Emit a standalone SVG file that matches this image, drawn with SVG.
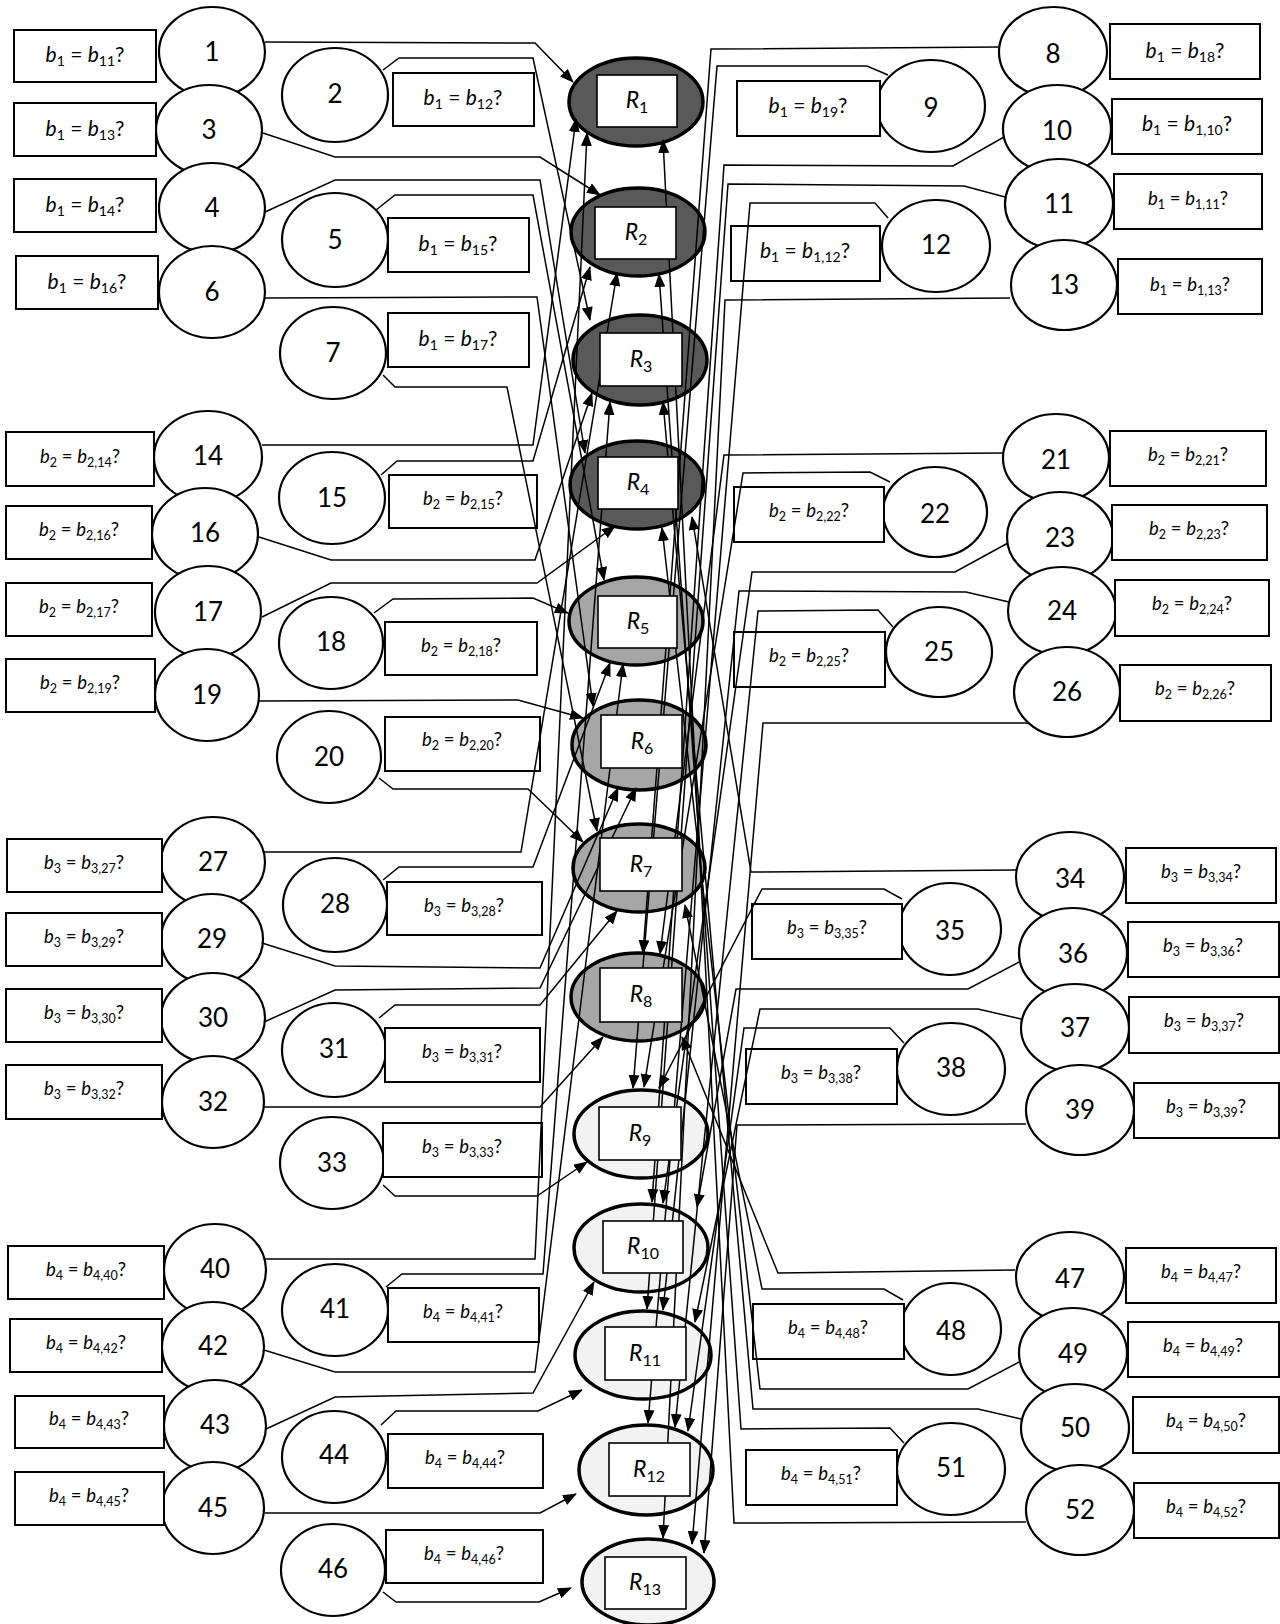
<svg xmlns="http://www.w3.org/2000/svg" width="1280" height="1624" viewBox="0 0 1280 1624">
<defs>
<style>
.bx{fill:#fff;stroke:#000;stroke-width:2}
.cc{fill:#fff;stroke:#000;stroke-width:2.2}
.num{font-family:Lato,"Liberation Sans",sans-serif;font-size:26px;text-anchor:middle;fill:#000}
.lb{font-family:Lato,"Liberation Sans",sans-serif;font-size:21px;text-anchor:middle;fill:#000}
.lb2{font-family:Lato,"Liberation Sans",sans-serif;font-size:18.5px;text-anchor:middle;fill:#000}
.i{font-style:italic}
.s{font-size:14px}
.s2{font-size:12.5px}
.cn{fill:none;stroke:#000;stroke-width:1.5;marker-end:url(#ah)}
.re{stroke:#000;stroke-width:3.5}
.d1{fill:#595959}
.d2{fill:#a6a6a6}
.d3{fill:#f2f2f2}
.rr{fill:#fff;stroke:#000;stroke-width:1.6}
.rl{font-family:Lato,"Liberation Sans",sans-serif;font-size:23px;text-anchor:middle;fill:#000}
.rs{font-size:16px}
</style>
<marker id="ah" viewBox="0 0 14 11" refX="13" refY="5.5" markerWidth="14" markerHeight="11" markerUnits="userSpaceOnUse" orient="auto"><path d="M0,0 L14,5.5 L0,11 z" fill="#000"/></marker>
</defs>
<rect width="1280" height="1624" fill="#fff"/>

<g id="R-shapes">
<g id="R1"><ellipse class="re d1" cx="636" cy="102" rx="67" ry="44"/></g>
<g id="R2"><ellipse class="re d1" cx="638" cy="232" rx="67" ry="44"/></g>
<g id="R3"><ellipse class="re d1" cx="640" cy="360" rx="67" ry="45"/></g>
<g id="R4"><ellipse class="re d1" cx="637" cy="485" rx="67" ry="44"/></g>
<g id="R5"><ellipse class="re d2" cx="636" cy="621" rx="67" ry="44"/></g>
<g id="R6"><ellipse class="re d2" cx="639" cy="745" rx="67" ry="45"/></g>
<g id="R7"><ellipse class="re d2" cx="639" cy="868" rx="66" ry="44"/></g>
<g id="R8"><ellipse class="re d2" cx="638" cy="997" rx="67" ry="44"/></g>
<g id="R9"><ellipse class="re d3" cx="641" cy="1134" rx="67" ry="44"/></g>
<g id="R10"><ellipse class="re d3" cx="641" cy="1248" rx="67" ry="44"/></g>
<g id="R11"><ellipse class="re d3" cx="643" cy="1355" rx="68" ry="44"/></g>
<g id="R12"><ellipse class="re d3" cx="646" cy="1470" rx="67" ry="45"/></g>
<g id="R13"><ellipse class="re d3" cx="648" cy="1582" rx="66" ry="43"/></g>
</g>

<g id="nodes">
<g id="n1"><ellipse class="cc" cx="212" cy="52" rx="53" ry="45"/><text class="num" x="212" y="61">1</text>
<rect class="bx" x="14" y="30" width="142" height="52"/><text class="lb" x="85" y="62"><tspan class="i">b</tspan><tspan class="s" dy="4">1</tspan><tspan dy="-4"> = </tspan><tspan class="i">b</tspan><tspan class="s" dy="4">11</tspan><tspan dy="-4">?</tspan></text></g>
<g id="n2"><ellipse class="cc" cx="335" cy="95" rx="53" ry="47"/><text class="num" x="335" y="103">2</text>
<rect class="bx" x="393" y="73" width="141" height="53"/><text class="lb" x="463" y="105"><tspan class="i">b</tspan><tspan class="s" dy="4">1</tspan><tspan dy="-4"> = </tspan><tspan class="i">b</tspan><tspan class="s" dy="4">12</tspan><tspan dy="-4">?</tspan></text></g>
<g id="n3"><ellipse class="cc" cx="209" cy="130" rx="53" ry="45"/><text class="num" x="209" y="139">3</text>
<rect class="bx" x="14" y="103" width="142" height="53"/><text class="lb" x="85" y="136"><tspan class="i">b</tspan><tspan class="s" dy="4">1</tspan><tspan dy="-4"> = </tspan><tspan class="i">b</tspan><tspan class="s" dy="4">13</tspan><tspan dy="-4">?</tspan></text></g>
<g id="n4"><ellipse class="cc" cx="212" cy="208" rx="53" ry="45"/><text class="num" x="212" y="217">4</text>
<rect class="bx" x="14" y="179" width="142" height="53"/><text class="lb" x="85" y="212"><tspan class="i">b</tspan><tspan class="s" dy="4">1</tspan><tspan dy="-4"> = </tspan><tspan class="i">b</tspan><tspan class="s" dy="4">14</tspan><tspan dy="-4">?</tspan></text></g>
<g id="n5"><ellipse class="cc" cx="335" cy="240" rx="53" ry="47"/><text class="num" x="335" y="249">5</text>
<rect class="bx" x="388" y="218" width="141" height="54"/><text class="lb" x="458" y="251"><tspan class="i">b</tspan><tspan class="s" dy="4">1</tspan><tspan dy="-4"> = </tspan><tspan class="i">b</tspan><tspan class="s" dy="4">15</tspan><tspan dy="-4">?</tspan></text></g>
<g id="n6"><ellipse class="cc" cx="212" cy="292" rx="53" ry="46"/><text class="num" x="212" y="301">6</text>
<rect class="bx" x="16" y="256" width="142" height="53"/><text class="lb" x="87" y="289"><tspan class="i">b</tspan><tspan class="s" dy="4">1</tspan><tspan dy="-4"> = </tspan><tspan class="i">b</tspan><tspan class="s" dy="4">16</tspan><tspan dy="-4">?</tspan></text></g>
<g id="n7"><ellipse class="cc" cx="333" cy="353" rx="53" ry="46"/><text class="num" x="333" y="362">7</text>
<rect class="bx" x="388" y="313" width="141" height="54"/><text class="lb" x="458" y="346"><tspan class="i">b</tspan><tspan class="s" dy="4">1</tspan><tspan dy="-4"> = </tspan><tspan class="i">b</tspan><tspan class="s" dy="4">17</tspan><tspan dy="-4">?</tspan></text></g>

<g id="n8"><ellipse class="cc" cx="1053" cy="52" rx="54" ry="45"/><text class="num" x="1053" y="63">8</text>
<rect class="bx" x="1110" y="24" width="150" height="55"/><text class="lb" x="1185" y="58"><tspan class="i">b</tspan><tspan class="s" dy="4">1</tspan><tspan dy="-4"> = </tspan><tspan class="i">b</tspan><tspan class="s" dy="4">18</tspan><tspan dy="-4">?</tspan></text></g>
<g id="n9"><ellipse class="cc" cx="931" cy="106" rx="54" ry="46"/><text class="num" x="931" y="117">9</text>
<rect class="bx" x="737" y="81" width="143" height="55"/><text class="lb" x="808" y="113"><tspan class="i">b</tspan><tspan class="s" dy="4">1</tspan><tspan dy="-4"> = </tspan><tspan class="i">b</tspan><tspan class="s" dy="4">19</tspan><tspan dy="-4">?</tspan></text></g>
<g id="n10"><ellipse class="cc" cx="1057" cy="129" rx="54" ry="44"/><text class="num" x="1057" y="140">10</text>
<rect class="bx" x="1112" y="99" width="150" height="55"/><text class="lb" x="1187" y="131"><tspan class="i">b</tspan><tspan class="s" dy="4">1</tspan><tspan dy="-4"> = </tspan><tspan class="i">b</tspan><tspan class="s" dy="4">1,10</tspan><tspan dy="-4">?</tspan></text></g>
<g id="n11"><ellipse class="cc" cx="1059" cy="204" rx="54" ry="45"/><text class="num" x="1059" y="213">11</text>
<rect class="bx" x="1114" y="174" width="148" height="55"/><text class="lb2" x="1188" y="205"><tspan class="i">b</tspan><tspan class="s2" dy="4">1</tspan><tspan dy="-4"> = </tspan><tspan class="i">b</tspan><tspan class="s2" dy="4">1,11</tspan><tspan dy="-4">?</tspan></text></g>
<g id="n12"><ellipse class="cc" cx="936" cy="246" rx="54" ry="46"/><text class="num" x="936" y="254">12</text>
<rect class="bx" x="731" y="226" width="149" height="55"/><text class="lb" x="805" y="258"><tspan class="i">b</tspan><tspan class="s" dy="4">1</tspan><tspan dy="-4"> = </tspan><tspan class="i">b</tspan><tspan class="s" dy="4">1,12</tspan><tspan dy="-4">?</tspan></text></g>
<g id="n13"><ellipse class="cc" cx="1064" cy="285" rx="53" ry="45"/><text class="num" x="1064" y="294">13</text>
<rect class="bx" x="1118" y="259" width="144" height="55"/><text class="lb2" x="1190" y="291"><tspan class="i">b</tspan><tspan class="s2" dy="4">1</tspan><tspan dy="-4"> = </tspan><tspan class="i">b</tspan><tspan class="s2" dy="4">1,13</tspan><tspan dy="-4">?</tspan></text></g>

<g id="n14"><ellipse class="cc" cx="208" cy="457" rx="54" ry="46"/><text class="num" x="208" y="465">14</text>
<rect class="bx" x="6" y="432" width="148" height="54"/><text class="lb2" x="80" y="463"><tspan class="i">b</tspan><tspan class="s2" dy="4">2</tspan><tspan dy="-4"> = </tspan><tspan class="i">b</tspan><tspan class="s2" dy="4">2,14</tspan><tspan dy="-4">?</tspan></text></g>
<g id="n15"><ellipse class="cc" cx="332" cy="498" rx="53" ry="46"/><text class="num" x="332" y="507">15</text>
<rect class="bx" x="389" y="475" width="148" height="53"/><text class="lb2" x="463" y="505"><tspan class="i">b</tspan><tspan class="s2" dy="4">2</tspan><tspan dy="-4"> = </tspan><tspan class="i">b</tspan><tspan class="s2" dy="4">2,15</tspan><tspan dy="-4">?</tspan></text></g>
<g id="n16"><ellipse class="cc" cx="205" cy="534" rx="53" ry="46"/><text class="num" x="205" y="542">16</text>
<rect class="bx" x="6" y="506" width="146" height="53"/><text class="lb2" x="79" y="536"><tspan class="i">b</tspan><tspan class="s2" dy="4">2</tspan><tspan dy="-4"> = </tspan><tspan class="i">b</tspan><tspan class="s2" dy="4">2,16</tspan><tspan dy="-4">?</tspan></text></g>
<g id="n17"><ellipse class="cc" cx="208" cy="612" rx="53" ry="46"/><text class="num" x="208" y="621">17</text>
<rect class="bx" x="6" y="583" width="146" height="53"/><text class="lb2" x="79" y="613"><tspan class="i">b</tspan><tspan class="s2" dy="4">2</tspan><tspan dy="-4"> = </tspan><tspan class="i">b</tspan><tspan class="s2" dy="4">2,17</tspan><tspan dy="-4">?</tspan></text></g>
<g id="n18"><ellipse class="cc" cx="331" cy="643" rx="52" ry="46"/><text class="num" x="331" y="651">18</text>
<rect class="bx" x="385" y="622" width="152" height="53"/><text class="lb2" x="461" y="652"><tspan class="i">b</tspan><tspan class="s2" dy="4">2</tspan><tspan dy="-4"> = </tspan><tspan class="i">b</tspan><tspan class="s2" dy="4">2,18</tspan><tspan dy="-4">?</tspan></text></g>
<g id="n19"><ellipse class="cc" cx="207" cy="695" rx="52" ry="46"/><text class="num" x="207" y="704">19</text>
<rect class="bx" x="6" y="659" width="149" height="53"/><text class="lb2" x="80" y="689"><tspan class="i">b</tspan><tspan class="s2" dy="4">2</tspan><tspan dy="-4"> = </tspan><tspan class="i">b</tspan><tspan class="s2" dy="4">2,19</tspan><tspan dy="-4">?</tspan></text></g>
<g id="n20"><ellipse class="cc" cx="329" cy="757" rx="52" ry="46"/><text class="num" x="329" y="766">20</text>
<rect class="bx" x="385" y="717" width="155" height="54"/><text class="lb2" x="462" y="746"><tspan class="i">b</tspan><tspan class="s2" dy="4">2</tspan><tspan dy="-4"> = </tspan><tspan class="i">b</tspan><tspan class="s2" dy="4">2,20</tspan><tspan dy="-4">?</tspan></text></g>

<g id="n21"><ellipse class="cc" cx="1056" cy="458" rx="53" ry="44"/><text class="num" x="1056" y="469">21</text>
<rect class="bx" x="1110" y="431" width="156" height="55"/><text class="lb2" x="1188" y="461"><tspan class="i">b</tspan><tspan class="s2" dy="4">2</tspan><tspan dy="-4"> = </tspan><tspan class="i">b</tspan><tspan class="s2" dy="4">2,21</tspan><tspan dy="-4">?</tspan></text></g>
<g id="n22"><ellipse class="cc" cx="935" cy="512" rx="52" ry="45"/><text class="num" x="935" y="523">22</text>
<rect class="bx" x="734" y="487" width="150" height="55"/><text class="lb2" x="809" y="517"><tspan class="i">b</tspan><tspan class="s2" dy="4">2</tspan><tspan dy="-4"> = </tspan><tspan class="i">b</tspan><tspan class="s2" dy="4">2,22</tspan><tspan dy="-4">?</tspan></text></g>
<g id="n23"><ellipse class="cc" cx="1060" cy="537" rx="53" ry="45"/><text class="num" x="1060" y="547">23</text>
<rect class="bx" x="1112" y="505" width="155" height="55"/><text class="lb2" x="1189" y="535"><tspan class="i">b</tspan><tspan class="s2" dy="4">2</tspan><tspan dy="-4"> = </tspan><tspan class="i">b</tspan><tspan class="s2" dy="4">2,23</tspan><tspan dy="-4">?</tspan></text></g>
<g id="n24"><ellipse class="cc" cx="1062" cy="611" rx="54" ry="44"/><text class="num" x="1062" y="620">24</text>
<rect class="bx" x="1115" y="580" width="154" height="56"/><text class="lb2" x="1192" y="610"><tspan class="i">b</tspan><tspan class="s2" dy="4">2</tspan><tspan dy="-4"> = </tspan><tspan class="i">b</tspan><tspan class="s2" dy="4">2,24</tspan><tspan dy="-4">?</tspan></text></g>
<g id="n25"><ellipse class="cc" cx="939" cy="652" rx="53" ry="45"/><text class="num" x="939" y="661">25</text>
<rect class="bx" x="734" y="632" width="151" height="55"/><text class="lb2" x="809" y="662"><tspan class="i">b</tspan><tspan class="s2" dy="4">2</tspan><tspan dy="-4"> = </tspan><tspan class="i">b</tspan><tspan class="s2" dy="4">2,25</tspan><tspan dy="-4">?</tspan></text></g>
<g id="n26"><ellipse class="cc" cx="1067" cy="692" rx="53" ry="45"/><text class="num" x="1067" y="701">26</text>
<rect class="bx" x="1120" y="665" width="151" height="56"/><text class="lb2" x="1195" y="695"><tspan class="i">b</tspan><tspan class="s2" dy="4">2</tspan><tspan dy="-4"> = </tspan><tspan class="i">b</tspan><tspan class="s2" dy="4">2,26</tspan><tspan dy="-4">?</tspan></text></g>

<g id="n27"><ellipse class="cc" cx="213" cy="862" rx="52" ry="45"/><text class="num" x="213" y="871">27</text>
<rect class="bx" x="7" y="839" width="155" height="53"/><text class="lb2" x="84" y="869"><tspan class="i">b</tspan><tspan class="s2" dy="4">3</tspan><tspan dy="-4"> = </tspan><tspan class="i">b</tspan><tspan class="s2" dy="4">3,27</tspan><tspan dy="-4">?</tspan></text></g>
<g id="n28"><ellipse class="cc" cx="335" cy="905" rx="52" ry="47"/><text class="num" x="335" y="913">28</text>
<rect class="bx" x="387" y="882" width="155" height="53"/><text class="lb2" x="464" y="912"><tspan class="i">b</tspan><tspan class="s2" dy="4">3</tspan><tspan dy="-4"> = </tspan><tspan class="i">b</tspan><tspan class="s2" dy="4">3,28</tspan><tspan dy="-4">?</tspan></text></g>
<g id="n29"><ellipse class="cc" cx="212" cy="939" rx="51" ry="45"/><text class="num" x="212" y="948">29</text>
<rect class="bx" x="6" y="913" width="156" height="53"/><text class="lb2" x="84" y="943"><tspan class="i">b</tspan><tspan class="s2" dy="4">3</tspan><tspan dy="-4"> = </tspan><tspan class="i">b</tspan><tspan class="s2" dy="4">3,29</tspan><tspan dy="-4">?</tspan></text></g>
<g id="n30"><ellipse class="cc" cx="213" cy="1018" rx="52" ry="45"/><text class="num" x="213" y="1027">30</text>
<rect class="bx" x="6" y="989" width="156" height="53"/><text class="lb2" x="84" y="1019"><tspan class="i">b</tspan><tspan class="s2" dy="4">3</tspan><tspan dy="-4"> = </tspan><tspan class="i">b</tspan><tspan class="s2" dy="4">3,30</tspan><tspan dy="-4">?</tspan></text></g>
<g id="n31"><ellipse class="cc" cx="334" cy="1050" rx="52" ry="47"/><text class="num" x="334" y="1058">31</text>
<rect class="bx" x="385" y="1028" width="155" height="54"/><text class="lb2" x="462" y="1058"><tspan class="i">b</tspan><tspan class="s2" dy="4">3</tspan><tspan dy="-4"> = </tspan><tspan class="i">b</tspan><tspan class="s2" dy="4">3,31</tspan><tspan dy="-4">?</tspan></text></g>
<g id="n32"><ellipse class="cc" cx="213" cy="1102" rx="51" ry="46"/><text class="num" x="213" y="1111">32</text>
<rect class="bx" x="6" y="1065" width="156" height="54"/><text class="lb2" x="84" y="1095"><tspan class="i">b</tspan><tspan class="s2" dy="4">3</tspan><tspan dy="-4"> = </tspan><tspan class="i">b</tspan><tspan class="s2" dy="4">3,32</tspan><tspan dy="-4">?</tspan></text></g>
<g id="n33"><ellipse class="cc" cx="332" cy="1163" rx="52" ry="46"/><text class="num" x="332" y="1172">33</text>
<rect class="bx" x="383" y="1123" width="159" height="54"/><text class="lb2" x="462" y="1153"><tspan class="i">b</tspan><tspan class="s2" dy="4">3</tspan><tspan dy="-4"> = </tspan><tspan class="i">b</tspan><tspan class="s2" dy="4">3,33</tspan><tspan dy="-4">?</tspan></text></g>

<g id="n34"><ellipse class="cc" cx="1070" cy="877" rx="54" ry="45"/><text class="num" x="1070" y="888">34</text>
<rect class="bx" x="1126" y="848" width="150" height="55"/><text class="lb2" x="1201" y="878"><tspan class="i">b</tspan><tspan class="s2" dy="4">3</tspan><tspan dy="-4"> = </tspan><tspan class="i">b</tspan><tspan class="s2" dy="4">3,34</tspan><tspan dy="-4">?</tspan></text></g>
<g id="n35"><ellipse class="cc" cx="950" cy="929" rx="51" ry="46"/><text class="num" x="950" y="940">35</text>
<rect class="bx" x="752" y="904" width="150" height="55"/><text class="lb2" x="827" y="934"><tspan class="i">b</tspan><tspan class="s2" dy="4">3</tspan><tspan dy="-4"> = </tspan><tspan class="i">b</tspan><tspan class="s2" dy="4">3,35</tspan><tspan dy="-4">?</tspan></text></g>
<g id="n36"><ellipse class="cc" cx="1073" cy="953" rx="54" ry="45"/><text class="num" x="1073" y="963">36</text>
<rect class="bx" x="1128" y="922" width="151" height="55"/><text class="lb2" x="1203" y="952"><tspan class="i">b</tspan><tspan class="s2" dy="4">3</tspan><tspan dy="-4"> = </tspan><tspan class="i">b</tspan><tspan class="s2" dy="4">3,36</tspan><tspan dy="-4">?</tspan></text></g>
<g id="n37"><ellipse class="cc" cx="1075" cy="1028" rx="54" ry="44"/><text class="num" x="1075" y="1037">37</text>
<rect class="bx" x="1129" y="997" width="150" height="56"/><text class="lb2" x="1204" y="1027"><tspan class="i">b</tspan><tspan class="s2" dy="4">3</tspan><tspan dy="-4"> = </tspan><tspan class="i">b</tspan><tspan class="s2" dy="4">3,37</tspan><tspan dy="-4">?</tspan></text></g>
<g id="n38"><ellipse class="cc" cx="951" cy="1069" rx="54" ry="46"/><text class="num" x="951" y="1077">38</text>
<rect class="bx" x="746" y="1049" width="151" height="55"/><text class="lb2" x="821" y="1079"><tspan class="i">b</tspan><tspan class="s2" dy="4">3</tspan><tspan dy="-4"> = </tspan><tspan class="i">b</tspan><tspan class="s2" dy="4">3,38</tspan><tspan dy="-4">?</tspan></text></g>
<g id="n39"><ellipse class="cc" cx="1080" cy="1110" rx="54" ry="45"/><text class="num" x="1080" y="1119">39</text>
<rect class="bx" x="1134" y="1083" width="145" height="55"/><text class="lb2" x="1206" y="1113"><tspan class="i">b</tspan><tspan class="s2" dy="4">3</tspan><tspan dy="-4"> = </tspan><tspan class="i">b</tspan><tspan class="s2" dy="4">3,39</tspan><tspan dy="-4">?</tspan></text></g>

<g id="n40"><ellipse class="cc" cx="215" cy="1270" rx="51" ry="46"/><text class="num" x="215" y="1278">40</text>
<rect class="bx" x="8" y="1246" width="156" height="53"/><text class="lb2" x="86" y="1276"><tspan class="i">b</tspan><tspan class="s2" dy="4">4</tspan><tspan dy="-4"> = </tspan><tspan class="i">b</tspan><tspan class="s2" dy="4">4,40</tspan><tspan dy="-4">?</tspan></text></g>
<g id="n41"><ellipse class="cc" cx="335" cy="1310" rx="53" ry="46"/><text class="num" x="335" y="1318">41</text>
<rect class="bx" x="388" y="1288" width="151" height="54"/><text class="lb2" x="463" y="1318"><tspan class="i">b</tspan><tspan class="s2" dy="4">4</tspan><tspan dy="-4"> = </tspan><tspan class="i">b</tspan><tspan class="s2" dy="4">4,41</tspan><tspan dy="-4">?</tspan></text></g>
<g id="n42"><ellipse class="cc" cx="213" cy="1347" rx="51" ry="45"/><text class="num" x="213" y="1355">42</text>
<rect class="bx" x="10" y="1319" width="152" height="53"/><text class="lb2" x="86" y="1349"><tspan class="i">b</tspan><tspan class="s2" dy="4">4</tspan><tspan dy="-4"> = </tspan><tspan class="i">b</tspan><tspan class="s2" dy="4">4,42</tspan><tspan dy="-4">?</tspan></text></g>
<g id="n43"><ellipse class="cc" cx="215" cy="1426" rx="51" ry="46"/><text class="num" x="215" y="1434">43</text>
<rect class="bx" x="15" y="1396" width="149" height="52"/><text class="lb2" x="89" y="1425"><tspan class="i">b</tspan><tspan class="s2" dy="4">4</tspan><tspan dy="-4"> = </tspan><tspan class="i">b</tspan><tspan class="s2" dy="4">4,43</tspan><tspan dy="-4">?</tspan></text></g>
<g id="n44"><ellipse class="cc" cx="334" cy="1457" rx="52" ry="46"/><text class="num" x="334" y="1464">44</text>
<rect class="bx" x="388" y="1434" width="155" height="54"/><text class="lb2" x="465" y="1464"><tspan class="i">b</tspan><tspan class="s2" dy="4">4</tspan><tspan dy="-4"> = </tspan><tspan class="i">b</tspan><tspan class="s2" dy="4">4,44</tspan><tspan dy="-4">?</tspan></text></g>
<g id="n45"><ellipse class="cc" cx="213" cy="1508" rx="51" ry="46"/><text class="num" x="213" y="1517">45</text>
<rect class="bx" x="15" y="1472" width="149" height="53"/><text class="lb2" x="89" y="1502"><tspan class="i">b</tspan><tspan class="s2" dy="4">4</tspan><tspan dy="-4"> = </tspan><tspan class="i">b</tspan><tspan class="s2" dy="4">4,45</tspan><tspan dy="-4">?</tspan></text></g>
<g id="n46"><ellipse class="cc" cx="333" cy="1570" rx="52" ry="46"/><text class="num" x="333" y="1578">46</text>
<rect class="bx" x="386" y="1530" width="157" height="53"/><text class="lb2" x="464" y="1560"><tspan class="i">b</tspan><tspan class="s2" dy="4">4</tspan><tspan dy="-4"> = </tspan><tspan class="i">b</tspan><tspan class="s2" dy="4">4,46</tspan><tspan dy="-4">?</tspan></text></g>

<g id="n47"><ellipse class="cc" cx="1070" cy="1277" rx="54" ry="45"/><text class="num" x="1070" y="1288">47</text>
<rect class="bx" x="1126" y="1248" width="150" height="55"/><text class="lb2" x="1201" y="1278"><tspan class="i">b</tspan><tspan class="s2" dy="4">4</tspan><tspan dy="-4"> = </tspan><tspan class="i">b</tspan><tspan class="s2" dy="4">4,47</tspan><tspan dy="-4">?</tspan></text></g>
<g id="n48"><ellipse class="cc" cx="951" cy="1329" rx="50" ry="46"/><text class="num" x="951" y="1340">48</text>
<rect class="bx" x="753" y="1304" width="151" height="55"/><text class="lb2" x="828" y="1334"><tspan class="i">b</tspan><tspan class="s2" dy="4">4</tspan><tspan dy="-4"> = </tspan><tspan class="i">b</tspan><tspan class="s2" dy="4">4,48</tspan><tspan dy="-4">?</tspan></text></g>
<g id="n49"><ellipse class="cc" cx="1073" cy="1353" rx="54" ry="45"/><text class="num" x="1073" y="1363">49</text>
<rect class="bx" x="1128" y="1322" width="151" height="55"/><text class="lb2" x="1203" y="1352"><tspan class="i">b</tspan><tspan class="s2" dy="4">4</tspan><tspan dy="-4"> = </tspan><tspan class="i">b</tspan><tspan class="s2" dy="4">4,49</tspan><tspan dy="-4">?</tspan></text></g>
<g id="n50"><ellipse class="cc" cx="1075" cy="1428" rx="54" ry="44"/><text class="num" x="1075" y="1437">50</text>
<rect class="bx" x="1133" y="1397" width="146" height="56"/><text class="lb2" x="1206" y="1427"><tspan class="i">b</tspan><tspan class="s2" dy="4">4</tspan><tspan dy="-4"> = </tspan><tspan class="i">b</tspan><tspan class="s2" dy="4">4,50</tspan><tspan dy="-4">?</tspan></text></g>
<g id="n51"><ellipse class="cc" cx="951" cy="1469" rx="54" ry="46"/><text class="num" x="951" y="1477">51</text>
<rect class="bx" x="746" y="1450" width="151" height="55"/><text class="lb2" x="821" y="1480"><tspan class="i">b</tspan><tspan class="s2" dy="4">4</tspan><tspan dy="-4"> = </tspan><tspan class="i">b</tspan><tspan class="s2" dy="4">4,51</tspan><tspan dy="-4">?</tspan></text></g>
<g id="n52"><ellipse class="cc" cx="1080" cy="1510" rx="54" ry="45"/><text class="num" x="1080" y="1519">52</text>
<rect class="bx" x="1134" y="1483" width="145" height="55"/><text class="lb2" x="1206" y="1513"><tspan class="i">b</tspan><tspan class="s2" dy="4">4</tspan><tspan dy="-4"> = </tspan><tspan class="i">b</tspan><tspan class="s2" dy="4">4,52</tspan><tspan dy="-4">?</tspan></text></g>
</g>

<g id="connectors">
<path class="cn" d="M265,42 L535,43 L573,82"/>
<path class="cn" d="M383,70 L399,58 L533,58 L590,320"/>
<path class="cn" d="M263,133 L335,157 L540,157 L600,195"/>
<path class="cn" d="M265,212 L335,180 L540,180 L585,453"/>
<path class="cn" d="M376,210 L395,195 L533,195 L604,580"/>
<path class="cn" d="M265,298 L537,297 L593,706"/>
<path class="cn" d="M383,375 L395,387 L507,387 L597,831"/>
<path class="cn" d="M1000,47 L711,49 L643,953"/>
<path class="cn" d="M888,75 L867,66 L717,66 L633,1088"/>
<path class="cn" d="M1004,137 L953,166 L724,165 L652,1202"/>
<path class="cn" d="M1005,197 L964,186 L728,184 L647,1309"/>
<path class="cn" d="M888,218 L875,203 L750,203 L648,1423"/>
<path class="cn" d="M1010,298 L725,300 L663,1538"/>
<path class="cn" d="M262,445 L533,445 L576,119"/>
<path class="cn" d="M381,475 L397,461 L533,461 L590,267"/>
<path class="cn" d="M259,537 L331,560 L535,560 L592,393"/>
<path class="cn" d="M262,617 L331,583 L537,583 L615,526"/>
<path class="cn" d="M374,613 L393,599 L533,598 L568,613"/>
<path class="cn" d="M259,701 L518,700 L583,718"/>
<path class="cn" d="M379,778 L393,789 L528,789 L583,842"/>
<path class="cn" d="M1003,453 L724,455 L660,954"/>
<path class="cn" d="M890,482 L870,472 L743,473 L644,1087"/>
<path class="cn" d="M1008,543 L955,572 L752,572 L663,1203"/>
<path class="cn" d="M1009,602 L966,592 L739,591 L663,1310"/>
<path class="cn" d="M893,627 L878,610 L758,611 L675,1427"/>
<path class="cn" d="M1028,723 L763,723 L692,1544"/>
<path class="cn" d="M264,852 L521,852 L617,273"/>
<path class="cn" d="M383,880 L399,867 L533,867 L610,663"/>
<path class="cn" d="M262,943 L335,966 L540,968 L618,788"/>
<path class="cn" d="M264,1022 L335,990 L540,988 L636,788"/>
<path class="cn" d="M379,1018 L395,1005 L540,1005 L617,911"/>
<path class="cn" d="M264,1107 L540,1107 L603,1037"/>
<path class="cn" d="M383,1185 L395,1196 L537,1196 L587,1162"/>
<path class="cn" d="M1016,870 L751,872 L692,517"/>
<path class="cn" d="M902,899 L884,889 L762,889 L659,1088"/>
<path class="cn" d="M1019,962 L968,989 L736,989 L697,1207"/>
<path class="cn" d="M1021,1019 L978,1009 L760,1009 L695,1322"/>
<path class="cn" d="M904,1043 L890,1028 L744,1028 L688,1431"/>
<path class="cn" d="M1026,1124 L737,1125 L704,1553"/>
<path class="cn" d="M265,1259 L535,1259 L587,133"/>
<path class="cn" d="M386,1287 L402,1274 L543,1274 L610,402"/>
<path class="cn" d="M264,1350 L335,1372 L535,1372 L623,664"/>
<path class="cn" d="M266,1429 L335,1397 L533,1393 L594,1282"/>
<path class="cn" d="M381,1425 L396,1411 L538,1411 L582,1390"/>
<path class="cn" d="M265,1513 L540,1513 L576,1494"/>
<path class="cn" d="M383,1592 L396,1602 L539,1602 L571,1588"/>
<path class="cn" d="M1015,1270 L778,1273 L682,1037"/>
<path class="cn" d="M903,1300 L884,1289 L762,1289 L685,905"/>
<path class="cn" d="M1019,1362 L968,1389 L760,1389 L662,528"/>
<path class="cn" d="M1021,1419 L978,1409 L753,1409 L663,402"/>
<path class="cn" d="M904,1443 L890,1428 L741,1429 L659,274"/>
<path class="cn" d="M1026,1522 L734,1523 L663,140"/>
</g>

<g id="R-labels">
<g id="R1-label"><rect class="rr" x="597" y="75" width="80" height="52"/><text class="rl" x="637" y="108"><tspan class="i">R</tspan><tspan class="rs" dy="5">1</tspan></text></g>
<g id="R2-label"><rect class="rr" x="595" y="207" width="81" height="52"/><text class="rl" x="636" y="240"><tspan class="i">R</tspan><tspan class="rs" dy="5">2</tspan></text></g>
<g id="R3-label"><rect class="rr" x="600" y="333" width="82" height="53"/><text class="rl" x="641" y="367"><tspan class="i">R</tspan><tspan class="rs" dy="5">3</tspan></text></g>
<g id="R4-label"><rect class="rr" x="598" y="457" width="80" height="52"/><text class="rl" x="638" y="490"><tspan class="i">R</tspan><tspan class="rs" dy="5">4</tspan></text></g>
<g id="R5-label"><rect class="rr" x="598" y="596" width="79" height="52"/><text class="rl" x="638" y="629"><tspan class="i">R</tspan><tspan class="rs" dy="5">5</tspan></text></g>
<g id="R6-label"><rect class="rr" x="601" y="715" width="81" height="53"/><text class="rl" x="642" y="749"><tspan class="i">R</tspan><tspan class="rs" dy="5">6</tspan></text></g>
<g id="R7-label"><rect class="rr" x="600" y="838" width="82" height="53"/><text class="rl" x="641" y="872"><tspan class="i">R</tspan><tspan class="rs" dy="5">7</tspan></text></g>
<g id="R8-label"><rect class="rr" x="600" y="968" width="82" height="54"/><text class="rl" x="641" y="1002"><tspan class="i">R</tspan><tspan class="rs" dy="5">8</tspan></text></g>
<g id="R9-label"><rect class="rr" x="599" y="1107" width="82" height="53"/><text class="rl" x="640" y="1141"><tspan class="i">R</tspan><tspan class="rs" dy="5">9</tspan></text></g>
<g id="R10-label"><rect class="rr" x="603" y="1221" width="80" height="52"/><text class="rl" x="643" y="1254"><tspan class="i">R</tspan><tspan class="rs" dy="5">10</tspan></text></g>
<g id="R11-label"><rect class="rr" x="605" y="1327" width="81" height="53"/><text class="rl" x="645" y="1361"><tspan class="i">R</tspan><tspan class="rs" dy="5">11</tspan></text></g>
<g id="R12-label"><rect class="rr" x="609" y="1443" width="81" height="53"/><text class="rl" x="649" y="1477"><tspan class="i">R</tspan><tspan class="rs" dy="5">12</tspan></text></g>
<g id="R13-label"><rect class="rr" x="605" y="1557" width="81" height="52"/><text class="rl" x="645" y="1590"><tspan class="i">R</tspan><tspan class="rs" dy="5">13</tspan></text></g>
</g>
</svg>
